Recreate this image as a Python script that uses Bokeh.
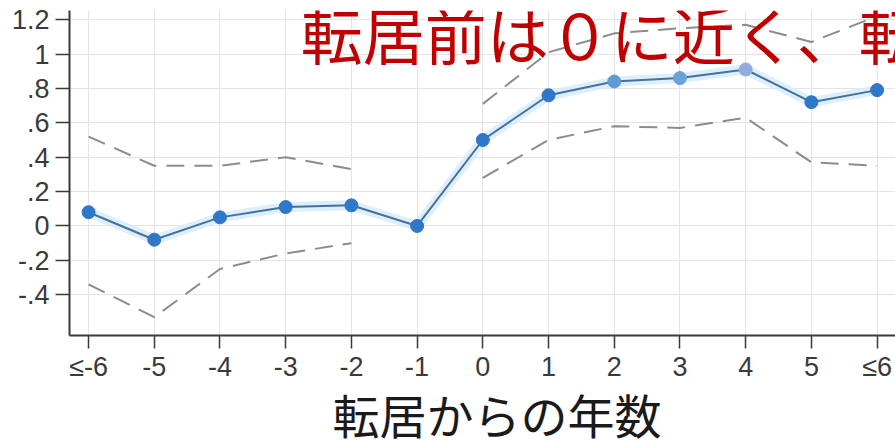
import numpy as np
from bokeh.plotting import figure
from bokeh.models import FixedTicker, Label, ColumnDataSource, Title
from bokeh.embed import file_html
from bokeh.resources import INLINE

# Years relative to the move (end bins are open-ended)
years = [-6, -5, -4, -3, -2, -1, 0, 1, 2, 3, 4, 5, 6]
year_labels = ["≤-6", "-5", "-4", "-3", "-2", "-1", "0", "1", "2", "3", "4", "5", "≤6"]

# Point estimates and 95% confidence bounds (year -1 is the reference year)
estimate = [0.08, -0.08, 0.05, 0.11, 0.12, 0.0, 0.50, 0.76, 0.84, 0.86, 0.91, 0.72, 0.79]
upper = [0.52, 0.35, 0.35, 0.40, 0.33, np.nan, 0.71, 1.01, 1.12, 1.15, 1.17, 1.07, 1.22]
lower = [-0.34, -0.53, -0.25, -0.16, -0.10, np.nan, 0.28, 0.50, 0.58, 0.57, 0.63, 0.37, 0.35]

y_ticks = [-0.4, -0.2, 0.0, 0.2, 0.4, 0.6, 0.8, 1.0, 1.2]
y_tick_labels = ["-.4", "-.2", "0", ".2", ".4", ".6", ".8", "1", "1.2"]

point_colors = ["#2e77c9", "#2e77c9", "#2e77c9", "#2e77c9", "#2e77c9", "#2e77c9",
                "#2e77c9", "#2e77c9", "#5f9bd9", "#6aa3dc", "#93abe0", "#2e77c9", "#2e77c9"]

headline = "転居前は０に近く、転"
x_title = "転居からの年数"

src = ColumnDataSource(dict(x=years, est=estimate, up=upper, lo=lower, c=point_colors))

p = figure(width=895, height=440, output_backend="svg", toolbar_location=None,
           x_range=(-6.29, 6.28), y_range=(-0.637, 1.253),
           min_border_left=69, min_border_right=0, min_border_top=10, min_border_bottom=0)
p.outline_line_color = None
p.background_fill_color = "white"
p.border_fill_color = "white"

# grid
p.xgrid.ticker = FixedTicker(ticks=years)
p.ygrid.ticker = FixedTicker(ticks=y_ticks)
for g in (p.xgrid, p.ygrid):
    g.grid_line_color = "#e4e4e4"
    g.grid_line_width = 1

# axes
p.xaxis.ticker = FixedTicker(ticks=years)
p.xaxis.major_label_overrides = {y: l for y, l in zip(years, year_labels)}
p.yaxis.ticker = FixedTicker(ticks=y_ticks)
p.yaxis.major_label_overrides = {t: l for t, l in zip(y_ticks, y_tick_labels)}
for ax in (p.xaxis, p.yaxis):
    ax.axis_line_color = "#3a3a3a"
    ax.axis_line_width = 2
    ax.major_tick_line_color = "#3a3a3a"
    ax.major_tick_line_width = 1.5
    ax.major_tick_in = 0
    ax.minor_tick_line_color = None
    ax.major_label_text_font = "Liberation Sans"
    ax.major_label_text_font_size = "27px"
    ax.major_label_text_color = "#3a3a3a"
p.xaxis.major_tick_out = 13
p.yaxis.major_tick_out = 14
p.xaxis.major_label_standoff = 3
p.yaxis.major_label_standoff = 6

# x-axis title below the tick labels
p.add_layout(Title(text=x_title, text_font="Noto Sans CJK JP", text_font_size="47px",
                   text_font_style="normal", text_color="#1a1a1a",
                   align="left", offset=263, standoff=-15), "below")

# confidence bounds
p.line("x", "up", source=src, line_color="#8c8c8c", line_width=2, line_dash="18 10")
p.line("x", "lo", source=src, line_color="#8c8c8c", line_width=2, line_dash="18 10")

# estimates with a soft halo
p.line("x", "est", source=src, line_color="#d6ebfb", line_width=10, line_alpha=0.8)
p.line("x", "est", source=src, line_color="#44719f", line_width=2)
p.scatter("x", "est", source=src, size=13, fill_color="c", line_color="c", line_width=1)

# headline drawn over the plot
p.add_layout(Label(x=-2.77, y=1.12, text=headline, text_font="Noto Sans CJK JP",
                   text_font_size="62px", text_color="#c00000",
                   text_baseline="middle", text_align="left"))

open("out.html", "w").write(file_html(p, INLINE))
